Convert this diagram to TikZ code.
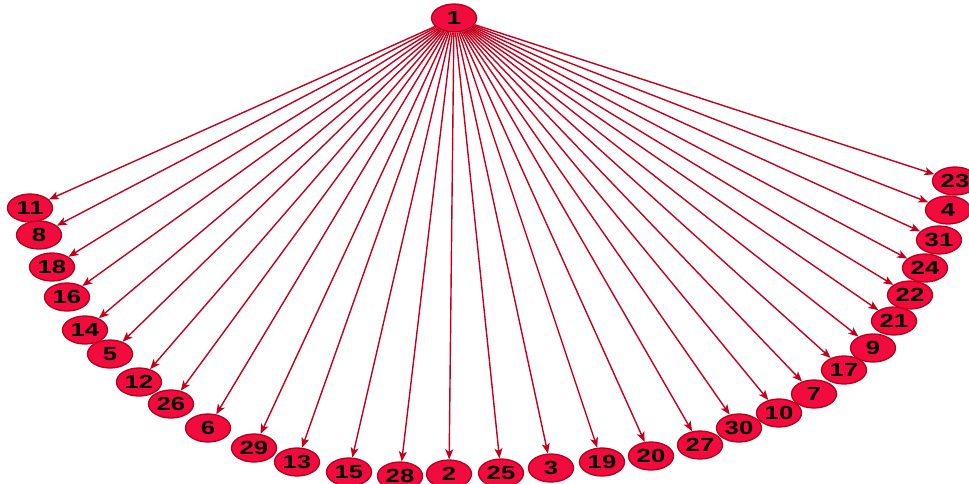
\documentclass[tikz,border=0pt]{standalone}
\usepackage{fontspec}
\usepackage{graphicx}
\setmainfont{Liberation Sans}
\usetikzlibrary{shapes.geometric,arrows.meta}
\definecolor{nodefill}{RGB}{242,12,62}
\definecolor{nodeline}{RGB}{180,0,28}
\definecolor{edgecol}{RGB}{195,0,28}
\tikzset{
  vtx/.style={ellipse, draw=nodeline, fill=nodefill, line width=1.3pt,
    minimum width=45pt, minimum height=28pt, inner sep=0pt,
    font=\fontsize{19}{19}\selectfont\bfseries, text=black},
  edg/.style={draw=edgecol, line width=1.4pt, -{Stealth[length=10pt,width=8pt,inset=2.5pt]}}
}
\newcommand{\lbl}[1]{\scalebox{1.35}[1]{#1}}
\begin{document}
\begin{tikzpicture}[x=1pt,y=-1pt]
\useasboundingbox (0,0) rectangle (969,483);
\node[vtx] (n1) at (454,18) {\lbl{1}};
\foreach \n/\x/\y in {11/30/208, 8/39/235, 18/52/267, 16/67/297, 14/85/330, 5/110/354,
  12/139/382, 26/171/404, 6/208/428, 29/254/448, 13/297/462, 15/349/472, 28/400/476,
  2/449/474, 25/501/473, 3/551/468, 19/602/462, 20/651/456, 27/700/445, 30/739/428,
  10/779/413, 7/814/394, 17/844/370, 9/873/348, 21/894/321, 22/910/295, 24/925/268,
  31/939/240, 4/948/210, 23/955/181}{
  \node[vtx] (n\n) at (\x,\y) {\lbl{\n}};
}
\foreach \n in {11,8,18,16,14,5,12,26,6,29,13,15,28,2,25,3,19,20,27,30,10,7,17,9,21,22,24,31,4,23}{
  \draw[edg] (n1) -- (n\n);
}
\end{tikzpicture}
\end{document}
